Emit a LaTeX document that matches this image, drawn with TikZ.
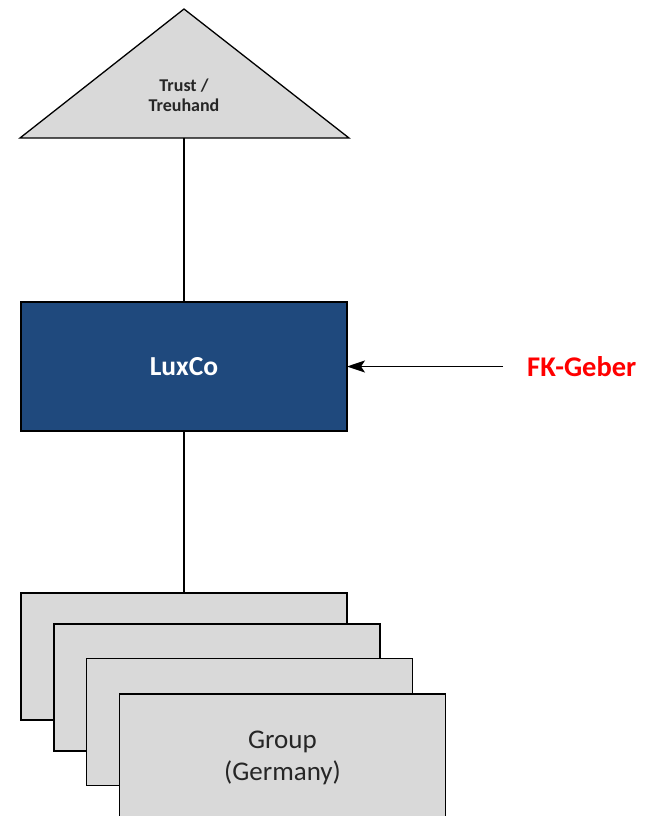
\documentclass[tikz,border=0pt]{standalone}
\usepackage{fontspec}
\setmainfont{Carlito}
\usetikzlibrary{arrows.meta}
\definecolor{luxblue}{RGB}{31,73,125}
\definecolor{boxgray}{RGB}{217,217,217}
\definecolor{txtgray}{RGB}{38,38,38}
\begin{document}
\begin{tikzpicture}[x=1bp,y=-1bp,
  edge/.style={draw=black,line width=1.3bp},
  grpbox/.style={draw=black,line width=1.3bp,fill=boxgray,minimum width=326bp,minimum height=127bp,inner sep=0pt,outer sep=0pt},
  luxbox/.style={draw=black,line width=1.3bp,fill=luxblue,minimum width=326bp,minimum height=129bp,inner sep=0pt,outer sep=0pt,text=white,font=\bfseries\fontsize{27.5bp}{30bp}\selectfont}
]
\useasboundingbox (0,0) rectangle (660,816);
\begin{scope}
\clip (0,0) rectangle (660,816);
% Trust triangle
\coordinate (apex) at (184,9);
\coordinate (tl) at (20,138);
\coordinate (tr) at (349,138);
\filldraw[edge,fill=boxgray,line join=miter] (apex) -- (tr) -- (tl) -- cycle;
\node[align=center,text=txtgray,font=\bfseries\fontsize{18bp}{20bp}\selectfont] (trust) at (184,95) {Trust /\\Treuhand};
% LuxCo
\node[luxbox] (lux) at (184,366.5) {LuxCo};
% FK-Geber
\node[text=red,font=\bfseries\fontsize{28.5bp}{30bp}\selectfont,anchor=west,inner sep=0pt] (fk) at (527,366.5) {FK-Geber};
\coordinate (fkend) at (503,366.5);
% group boxes
\node[grpbox] (g1) at (184,656.5) {};
\node[grpbox] (g2) at (217,687.5) {};
\node[grpbox] (g3) at (249.5,722) {};
\node[grpbox,align=center,text=txtgray,font=\fontsize{27bp}{32bp}\selectfont] (g4) at (282.5,757.5) {Group\\(Germany)};
% connectors
\draw[edge] (lux.north |- tl) -- (lux.north);
\draw[edge] (lux.south) -- (g1.north);
\draw[edge,-{Stealth[length=18bp,width=12bp,inset=4bp]}] (fkend) -- (lux.east);
\end{scope}
\end{tikzpicture}
\end{document}
